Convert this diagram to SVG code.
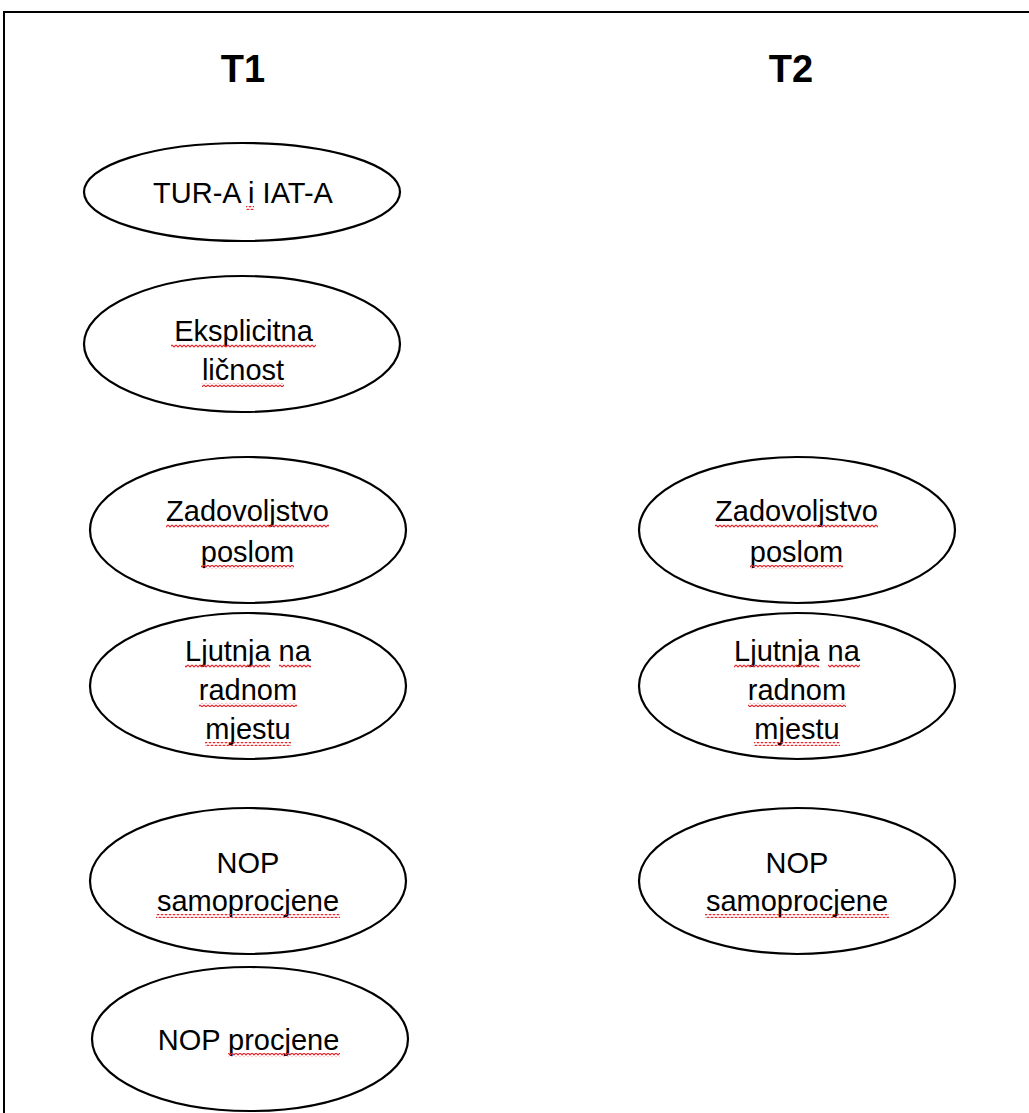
<svg xmlns="http://www.w3.org/2000/svg" width="1029" height="1113" viewBox="0 0 1029 1113">
<defs>
<pattern id="squig" x="0" y="0" width="4" height="4" patternUnits="userSpaceOnUse">
<path d="M0 1 L2 3 L4 1" fill="none" stroke="#e8262b" stroke-width="1.1"/>
</pattern>
<style>
.node ellipse{fill:#fff;stroke:#000;stroke-width:2.2}
.lbl{font-family:"Liberation Sans",Arial,sans-serif;font-size:29px;fill:#000;text-anchor:middle}
.hd{font-family:"Liberation Sans",Arial,sans-serif;font-size:38px;font-weight:bold;fill:#000;text-anchor:middle}
.sq{fill:url(#squig)}
</style>
</defs>
<rect width="1029" height="1113" fill="#fff"/>
<path d="M4 1113 V12 H1029" fill="none" stroke="#000" stroke-width="2"/>
<text class="hd" x="243" y="82">T1</text>
<text class="hd" x="791" y="82">T2</text>
<g id="connectors"></g>
<g id="n1" class="node">
<ellipse cx="242" cy="192" rx="158" ry="49"/>
<text class="lbl" x="243" y="203">TUR-A i IAT-A</text>
<rect class="sq" x="246" y="206" width="8" height="4"/>
</g>
<g id="n2" class="node">
<ellipse cx="242" cy="344" rx="158" ry="68"/>
<text class="lbl" x="243.5" y="341">Eksplicitna</text>
<text class="lbl" x="243" y="380">ličnost</text>
<rect class="sq" x="171" y="344" width="145" height="4"/>
<rect class="sq" x="202" y="383" width="82" height="4"/>
</g>
<g id="n3" class="node">
<ellipse cx="248" cy="530" rx="158" ry="73"/>
<text class="lbl" x="247.5" y="521">Zadovoljstvo</text>
<text class="lbl" x="247.5" y="562">poslom</text>
<rect class="sq" x="166" y="524" width="163" height="4"/>
<rect class="sq" x="201" y="565" width="93" height="4"/>
</g>
<g id="n4" class="node">
<ellipse cx="248" cy="686" rx="158" ry="73"/>
<text class="lbl" x="248" y="661">Ljutnja na</text>
<text class="lbl" x="248" y="700">radnom</text>
<text class="lbl" x="248" y="739">mjestu</text>
<rect class="sq" x="185" y="664" width="85" height="4"/>
<rect class="sq" x="279" y="664" width="32" height="4"/>
<rect class="sq" x="199" y="703" width="98" height="4"/>
<rect class="sq" x="205" y="742" width="86" height="4"/>
</g>
<g id="n5" class="node">
<ellipse cx="248" cy="881" rx="158" ry="73"/>
<text class="lbl" x="248" y="873">NOP</text>
<text class="lbl" x="248" y="911">samoprocjene</text>
<rect class="sq" x="156" y="914" width="184" height="4"/>
</g>
<g id="n6" class="node">
<ellipse cx="250" cy="1039" rx="158" ry="72"/>
<text class="lbl" x="248.5" y="1050">NOP procjene</text>
<rect class="sq" x="228" y="1053" width="112" height="4"/>
</g>
<g id="n7" class="node">
<ellipse cx="797" cy="530" rx="158" ry="73"/>
<text class="lbl" x="796.5" y="521">Zadovoljstvo</text>
<text class="lbl" x="796.5" y="562">poslom</text>
<rect class="sq" x="715" y="524" width="163" height="4"/>
<rect class="sq" x="750" y="565" width="93" height="4"/>
</g>
<g id="n8" class="node">
<ellipse cx="797" cy="686" rx="158" ry="73"/>
<text class="lbl" x="797" y="661">Ljutnja na</text>
<text class="lbl" x="797" y="700">radnom</text>
<text class="lbl" x="797" y="739">mjestu</text>
<rect class="sq" x="734" y="664" width="85" height="4"/>
<rect class="sq" x="828" y="664" width="32" height="4"/>
<rect class="sq" x="748" y="703" width="98" height="4"/>
<rect class="sq" x="754" y="742" width="86" height="4"/>
</g>
<g id="n9" class="node">
<ellipse cx="797" cy="881" rx="158" ry="73"/>
<text class="lbl" x="797" y="873">NOP</text>
<text class="lbl" x="797" y="911">samoprocjene</text>
<rect class="sq" x="705" y="914" width="184" height="4"/>
</g>
</svg>
